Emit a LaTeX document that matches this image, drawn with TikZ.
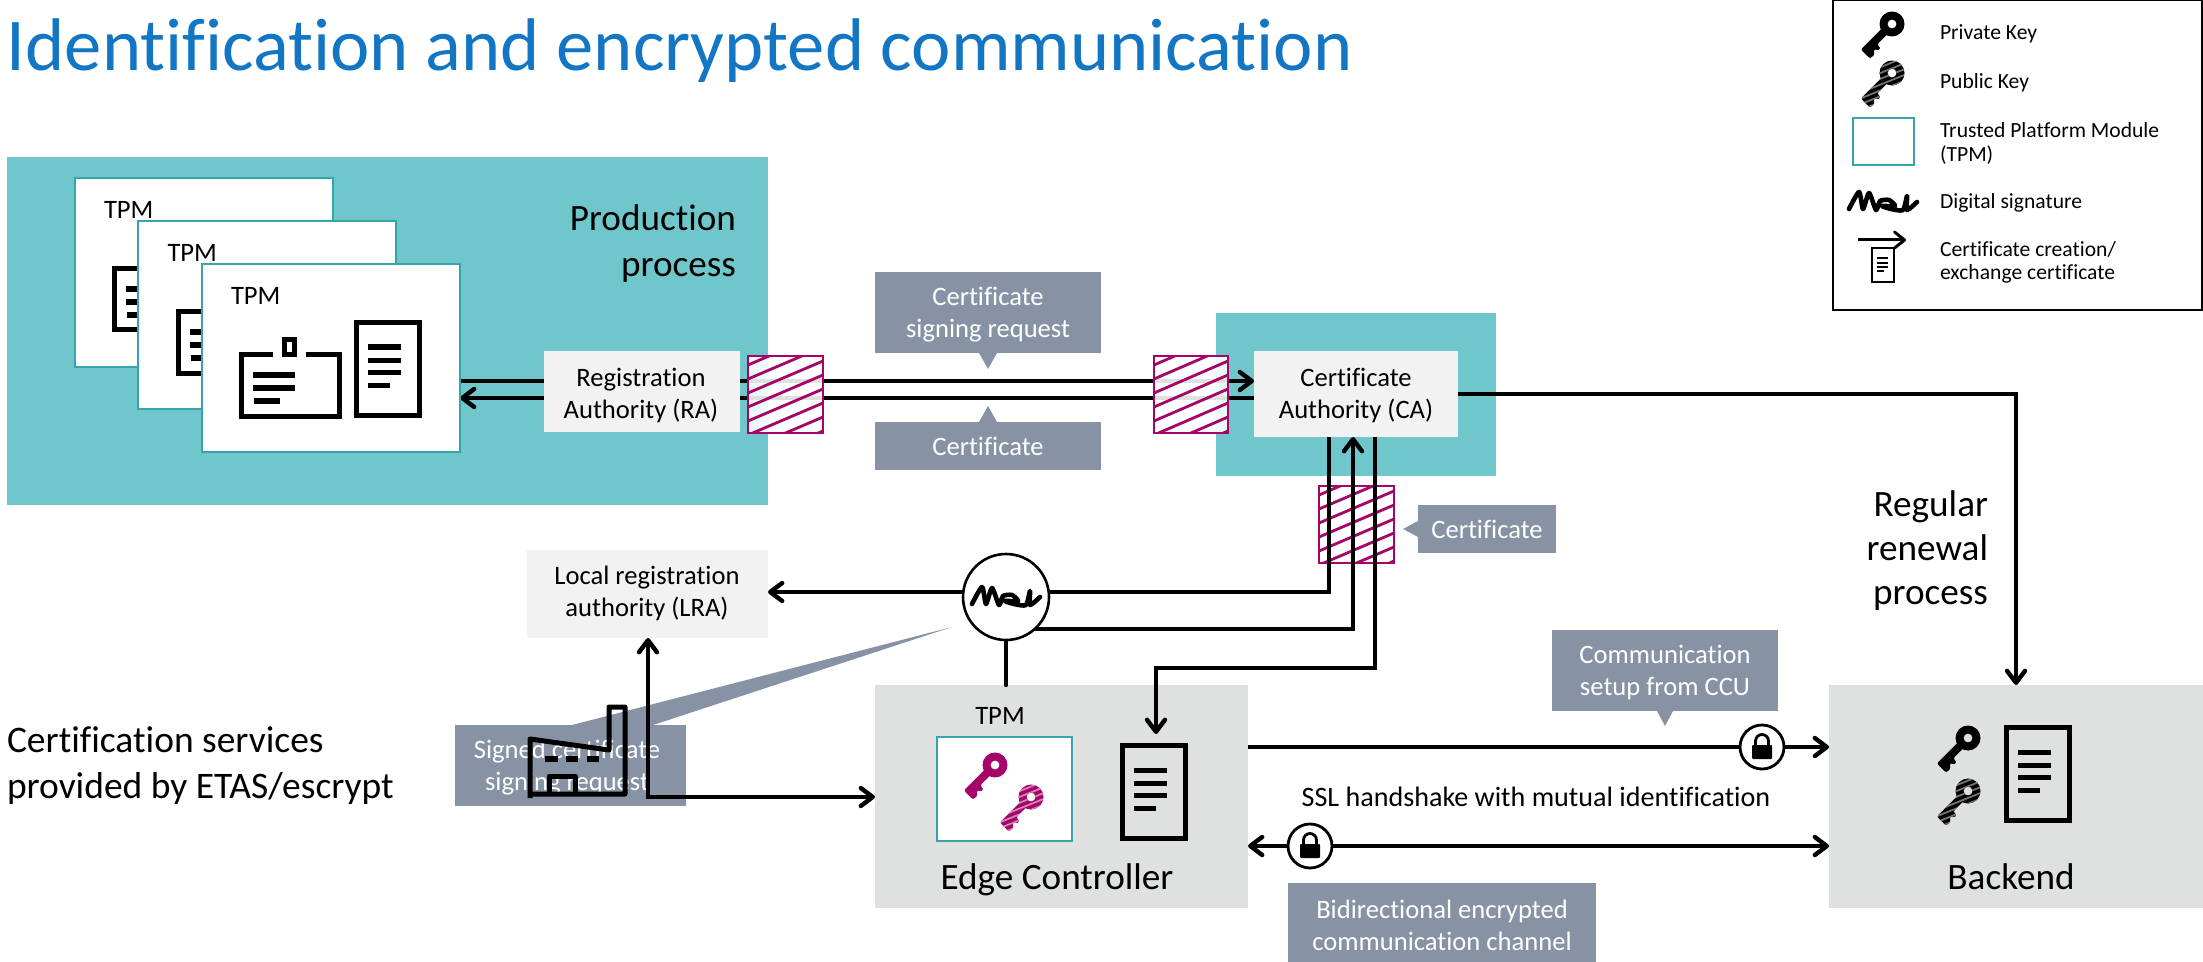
\documentclass[tikz,border=0pt]{standalone}
\usepackage{fontspec}
\setmainfont{Carlito}[Ligatures=CommonOff]
\usetikzlibrary{arrows.meta}
\pgfdeclarelayer{bg}
\pgfdeclarelayer{wiresa}
\pgfdeclarelayer{hatch}
\pgfdeclarelayer{wiresb}
\pgfsetlayers{bg,wiresa,hatch,wiresb,main}
\definecolor{mag}{HTML}{A50468}
\definecolor{tealbox}{HTML}{70C7CB}
\definecolor{tealline}{HTML}{35A5AB}
\definecolor{callout}{HTML}{8793A4}
\definecolor{lightbox}{HTML}{F2F2F2}
\definecolor{greybox}{HTML}{DFE1E0}
\definecolor{titleblue}{HTML}{1276C4}
\tikzset{
  txt/.style={inner sep=0pt,outer sep=0pt,font=\fontsize{13.3}{16}\selectfont,align=center},
  wtxt/.style={txt,text=white},
  bigtxt/.style={inner sep=0pt,outer sep=0pt,font=\fontsize{18.6}{23}\selectfont},
  legtxt/.style={inner sep=0pt,outer sep=0pt,font=\fontsize{10.8}{11.75}\selectfont,align=left},
  wire/.style={line width=2.2pt,draw=black},
  tip/.style={-{Straight Barb[length=6pt,width=9pt,round]}},
  bitip/.style={{Straight Barb[length=6pt,width=9pt,round]}-{Straight Barb[length=6pt,width=9pt,round]}},
  teal/.style={rectangle,fill=tealbox,inner sep=0pt,outer sep=0pt},
  light/.style={rectangle,fill=lightbox,inner sep=0pt,outer sep=0pt},
  grey/.style={rectangle,fill=greybox,inner sep=0pt,outer sep=0pt},
  card/.style={rectangle,fill=white,draw=tealline,line width=1pt,inner sep=0pt,outer sep=0pt},
  calloutbox/.style={rectangle,fill=callout,inner sep=0pt,outer sep=0pt},
  legendbox/.style={rectangle,draw=black,line width=1.4pt,fill=white,inner sep=0pt,outer sep=0pt},
  roundel/.style={circle,draw=black,fill=white,inner sep=0pt,outer sep=0pt},
  hatchbox/.style={rectangle,draw=mag,line width=1.3pt,fill=white,fill opacity=.88,draw opacity=1,inner sep=0pt,outer sep=0pt,
    path picture={\foreach \k in {0,...,7}{
      \draw[mag,line width=1.4pt,draw opacity=1]
        ([yshift={-4.5pt-7pt*\k}]path picture bounding box.north west) --
        ([yshift={16pt-4.5pt-7pt*\k}]path picture bounding box.north east);}}},
}
% rectangle node from corners: style, name, x1,y1,x2,y2
\newcommand\bx[6]{%
  \pgfmathsetmacro\bxcx{(#3+#5)/2}\pgfmathsetmacro\bxcy{(#4+#6)/2}%
  \pgfmathsetmacro\bxw{(#5-#3)*.5}\pgfmathsetmacro\bxh{(#6-#4)*.5}%
  \node[#1,minimum width=\bxw pt,minimum height=\bxh pt] (#2) at (\bxcx,\bxcy) {};}
\newcommand\keyshape{(12.5,0) arc (0:360:12.5) (4.5,0) arc (360:0:4.5)
  [rounded corners=1pt] (9,-4) -- (40,-4) -- (40,9) -- (33,9) -- (33,6) -- (29,6) -- (29,9) -- (25,9) -- (25,4) -- (9,4) -- cycle}
\newcommand\solidkey[3]{\begin{scope}[shift={(#1,#2)},x={(-.3536pt,-.3536pt)},y={(.3536pt,-.3536pt)}]
  \fill[#3]\keyshape;\end{scope}}
\newcommand\stripekey[4]{\begin{scope}[shift={(#1,#2)},x={(-.3536pt,-.3536pt)},y={(.3536pt,-.3536pt)}]
  \begin{scope}\clip\keyshape;
  \fill[#3] (-20,-20) -- (60,-20) -- (60,30) -- (-20,30) -- cycle;
  \foreach \k in {-24,-19,...,36}{\draw[#4,line width=.9pt] ({.424*\k+59.4},{.99*\k-25.4}) -- ({.424*\k-59.4},{.99*\k+25.4});}
  \end{scope}\end{scope}}
\newcommand\docicon[2]{\begin{scope}[shift={(#1,#2)}]
  \draw[line width=2.5pt] (2.5,2.5) rectangle (65.5,95.5);
  \foreach \yy in {27,40,52}{\draw[line width=2.5pt] (14,\yy) -- (47,\yy);}
  \draw[line width=2.5pt] (14,65) -- (36,65);\end{scope}}
\newcommand\badgeicon[2]{\begin{scope}[shift={(#1,#2)}]
  \draw[line width=2.5pt] (34,2.5) -- (2.5,2.5) -- (2.5,64) -- (100,64) -- (100,2.5) -- (67,2.5);
  \draw[line width=2.5pt] (45.5,-12.5) rectangle (55.5,2.5);
  \foreach \yy in {23,36}{\draw[line width=2.8pt] (14,\yy) -- (56,\yy);}
  \draw[line width=2.8pt] (15,49) -- (41,49);\end{scope}}
\newcommand\sigicon[2]{\begin{scope}[shift={(#1,#2)}]
  \draw[line width=2.3pt,line cap=round,line join=round] plot[smooth,tension=.4] coordinates
   {(0,0) (10,-17) (14,0) (20,-16) (27,1) (31,-8) (40,-9) (46,-3) (33,-3) (42,0) (54,1) (58,-13) (58,1) (68,-7)};\end{scope}}
\newcommand\lockicon[2]{\begin{scope}[shift={(#1,#2)}]
  \fill[rounded corners=.5pt] (-10,-2) rectangle (10,12);
  \draw[line width=1.4pt] (-6.5,-2) -- (-6.5,-6) arc (180:360:6.5) -- (6.5,-2);\end{scope}}
\newcommand\factoryicon{%
  \draw[line width=2.5pt,line join=round] (530,798) -- (530,739) -- (609,750) -- (609,707) -- (625,707) -- (625,794) -- (530,794);
  \draw[line width=2.5pt,line join=round] (549,794) -- (549,776) -- (575,776) -- (575,794);
  \foreach \xa/\xb in {545/558,566/578,587/599}{\draw[line width=3pt] (\xa,759) -- (\xb,759);}}
\begin{document}
\begin{tikzpicture}[x=.5pt,y=-.5pt]
\useasboundingbox (0,0) rectangle (2203,962);
% ---------- background areas
\begin{pgfonlayer}{bg}
\bx{teal}{prod}{7}{157}{768}{505}
\bx{teal}{caarea}{1216}{313}{1496}{476}
\bx{grey}{edge}{875}{685}{1248}{908}
\bx{grey}{backend}{1829}{685}{2203}{908}
% callouts
\fill[callout] (979,353) -- (997,353) -- (988,369) -- cycle;
\bx{calloutbox}{csrbox}{875}{272}{1101}{353}
\node[wtxt] (csrtext) at (988,315) {Certificate\\signing request};
\fill[callout] (979,422) -- (997,422) -- (988,406) -- cycle;
\bx{calloutbox}{certbox}{875}{422}{1101}{470}
\node[wtxt,anchor=base] (certtext) at (988,455) {Certificate};
\fill[callout] (1418,521) -- (1418,537) -- (1403,529) -- cycle;
\bx{calloutbox}{certboxb}{1418}{505}{1556}{553}
\node[wtxt,anchor=base] (certtextb) at (1487,538) {Certificate};
\fill[callout] (572,725) -- (653,725) -- (952,627) -- cycle;
\bx{calloutbox}{signedbox}{455}{725}{686}{806}
\node[wtxt] (signedtext) at (567,767.5) {Signed certificate\\signing request};
\fill[callout] (1657,711) -- (1673,711) -- (1665,726) -- cycle;
\bx{calloutbox}{commbox}{1552}{630}{1778}{711}
\node[wtxt] (commtext) at (1665,672) {Communication\\setup from CCU};
\bx{calloutbox}{bidibox}{1288}{883}{1596}{962}
\node[wtxt] (biditext) at (1442,925) {Bidirectional encrypted\\communication channel};
\end{pgfonlayer}
% ---------- title
\node[inner sep=0pt,anchor=base west,font=\fontsize{37.3}{45}\selectfont,text=titleblue] (title) at (6.5,70.5) {Identification and encrypted communication};
% ---------- legend
\bx{legendbox}{legend}{1833}{0}{2202}{310}
\solidkey{1892}{24}{black}
\stripekey{1892}{73}{black}{black!55}
\bx{card}{legendtpm}{1853}{118}{1914}{165}
\sigicon{1849}{209}
\coordinate (legarrowa) at (1858,240);
\coordinate (legarrowb) at (1906,240);
\draw[line width=1.5pt,-{Straight Barb[length=5pt,width=8pt,round]}] (legarrowa) -- (legarrowb);
\draw[line width=.8pt] (1872,248) rectangle (1894,282);
\foreach \yy in {258,263,267}{\draw[line width=.8pt] (1877,\yy) -- (1888,\yy);}
\draw[line width=.8pt] (1877,271) -- (1884,271);
\node[legtxt,anchor=base west] (l1) at (1940,40) {Private Key};
\node[legtxt,anchor=base west] (l2) at (1940,89) {Public Key};
\node[legtxt,anchor=west] (l3) at (1940,143.5) {Trusted Platform Module\\(TPM)};
\node[legtxt,anchor=base west] (l4) at (1940,208.5) {Digital signature};
\node[legtxt,anchor=west] (l5) at (1940,262.5) {Certificate creation/\\exchange certificate};
% ---------- production cards
\bx{card}{carda}{74.5}{178}{333}{367}
\node[txt,anchor=base west] (tpma) at (104,218.5) {TPM};
\badgeicon{112}{266}\docicon{227}{234}
\bx{card}{cardb}{138}{221}{396}{409}
\node[txt,anchor=base west] (tpmb) at (167.5,261.5) {TPM};
\badgeicon{175.5}{309}\docicon{290.5}{277}
\bx{card}{cardc}{201.5}{264}{460}{452}
\node[txt,anchor=base west] (tpmc) at (231,304.5) {TPM};
\badgeicon{239}{352}\docicon{354}{320}
\node[bigtxt,align=right,anchor=east] (prodtext) at (736,243.5) {Production\\process};
% ---------- authority nodes
\bx{light}{ra}{544}{351}{740}{432}
\node[txt] (ratext) at (641,395) {Registration\\Authority (RA)};
\bx{light}{ca}{1254}{351}{1458}{437}
\node[txt] (catext) at (1356,395) {Certificate\\Authority (CA)};
\bx{light}{lra}{527}{550}{768}{638}
\node[txt] (lratext) at (647,593.5) {Local registration\\authority (LRA)};
% ---------- hatch boxes
\begin{pgfonlayer}{hatch}
\bx{hatchbox}{hatcha}{748}{356}{823}{433}
\bx{hatchbox}{hatchb}{1154}{356}{1228}{433}
\bx{hatchbox}{hatchc}{1319}{486}{1394}{563}
\end{pgfonlayer}
% ---------- signature and locks
\node[roundel,line width=1.3pt,minimum size=43pt] (sig) at (1006,597) {};
\sigicon{972}{604}
\node[roundel,line width=1.4pt,minimum size=22pt] (locka) at (1762,747) {};
\lockicon{1762}{747}
\node[roundel,line width=1.4pt,minimum size=22pt] (lockb) at (1310,846) {};
\lockicon{1310}{846}
% ---------- edge controller content
\node[txt,anchor=base] (tpmedge) at (1000,724) {TPM};
\bx{card}{edgetpm}{937}{737}{1072}{841}
\solidkey{995}{765}{mag}
\stripekey{1031}{797}{mag}{mag!50}
\docicon{1120}{743}
\coordinate (edgedoc) at (1156,734);
\node[bigtxt,anchor=base] (edgetext) at (1057,889) {Edge Controller};
% ---------- backend content
\solidkey{1968}{738}{black}
\stripekey{1968}{791}{black}{black!55}
\docicon{2004}{725}
\node[bigtxt,anchor=base] (backendtext) at (2011,889) {Backend};
% ---------- free labels
\node[bigtxt,font=\fontsize{18.6}{22}\selectfont,align=right,anchor=east] (renewal) at (1988,551) {Regular\\renewal\\process};
\node[bigtxt,font=\fontsize{18.75}{23}\selectfont,align=left,anchor=west] (services) at (7,765.5) {Certification services\\provided by ETAS/escrypt};
\node[txt,font=\fontsize{14.05}{17}\selectfont,anchor=base] (ssl) at (1536,806) {SSL handshake with mutual identification};
% ---------- wires under the hatches
\begin{pgfonlayer}{wiresa}
\draw[wire,tip] (cardc.east |- 0,381) -- (ca.west |- 0,381);
\draw[wire,tip] (ca.west |- 0,398) -- (cardc.east |- 0,398);
\end{pgfonlayer}
% ---------- wires over the hatches
\begin{pgfonlayer}{wiresb}
\draw[wire,tip] (ca.east |- 0,394) -- (2016,394) -- (2016,0 |- backend.north);
\draw[wire,tip] (1329,0 |- ca.south) -- (1329,592) -- (lra.east |- 0,592);
\draw[wire,tip] (sig.center |- 0,629) -- (1353,629) -- (1353,0 |- ca.south);
\draw[wire,tip] (1375,0 |- ca.south) -- (1375,668) -- (1156,668) -- (edgedoc);
\draw[wire,line cap=round] (sig.south) -- (sig.south |- edge.north);
\draw[wire,bitip] (648,0 |- lra.south) -- (648,797) -- (edge.west |- 0,797);
\draw[wire,tip] (edge.east |- 0,747) -- (backend.west |- 0,747);
\draw[wire,bitip] (edge.east |- 0,846) -- (backend.west |- 0,846);
\factoryicon
\end{pgfonlayer}
\end{tikzpicture}
\end{document}
